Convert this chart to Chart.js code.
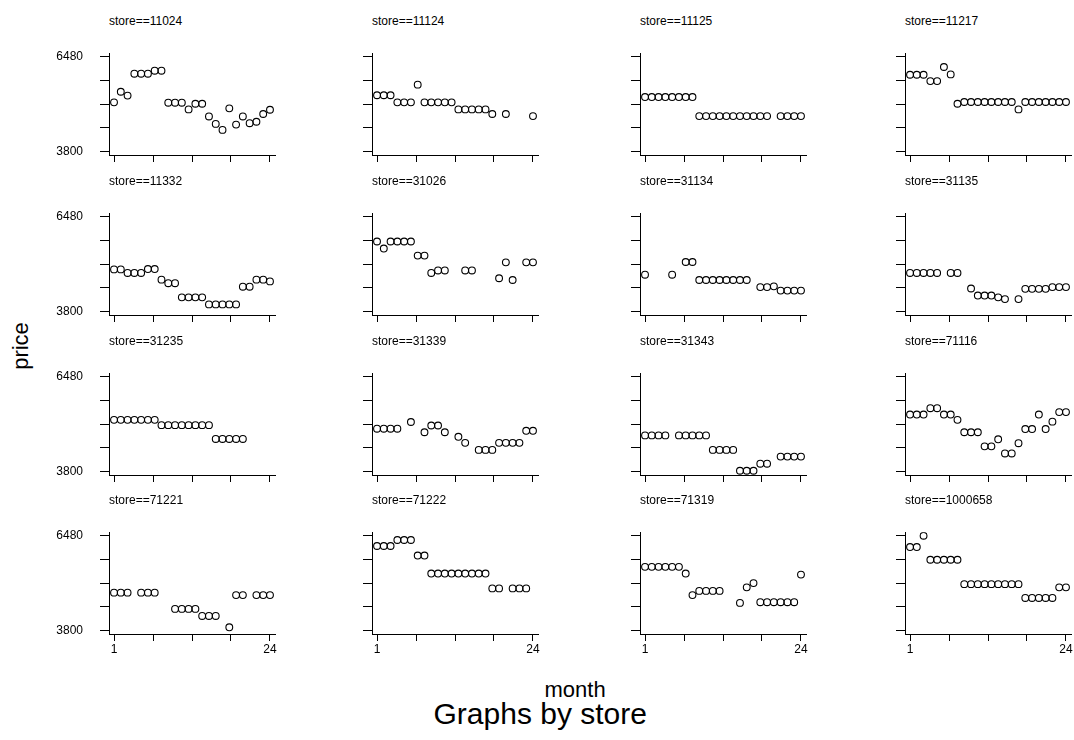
<!DOCTYPE html>
<html>
<head>
<meta charset="utf-8">
<script src="https://cdn.jsdelivr.net/npm/chart.js@4.4.0/dist/chart.umd.min.js"></script>
<style>
    body { margin: 0; background: #fff; width: 1074px; height: 740px; position: relative; overflow: hidden;
           font-family: 'Liberation Sans', Arial, sans-serif; color: #000; }
    canvas { position: absolute; }
    .ptitle { position: absolute; font-size: 12px; line-height: 12px; white-space: nowrap; }
    .ytitle { position: absolute; font-size: 22px; line-height: 22px; transform: rotate(-90deg); transform-origin: center; white-space: nowrap; }
    .xtitle { position: absolute; font-size: 22px; line-height: 22px; white-space: nowrap; }
    .note { position: absolute; font-size: 30px; line-height: 30px; white-space: nowrap; }
</style>
</head>
<body>
<div class="ytitle" id="ytitle">price</div>
<div class="xtitle" id="xtitle">month</div>
<div class="note" id="note">Graphs by store</div>
<script>
// months on the x axis
const months = [1, 2, 3, 4, 5, 6, 7, 8, 9, 10, 11, 12, 13, 14, 15, 16, 17, 18, 19, 20, 21, 22, 23, 24];
const xTicks = [1, 6.75, 12.5, 18.25, 24];
const xLabels = [1, 24];
const yTicks = [3800, 4470, 5140, 5810, 6480];
const yLabels = [3800, 6480];

const stores = ['11024', '11124', '11125', '11217', '11332', '31026', '31134', '31135',
                '31235', '31339', '31343', '71116', '71221', '71222', '71319', '1000658'];

// price by month, null = no observation
const s11024 = [5190, 5490, 5380, 6000, 6000, 6000, 6085, 6085, 5180, 5180, 5180, 4990, 5150, 5150, 4790, 4580, 4410, 5020, 4560, 4790, 4600, 4640, 4860, 4980];
const s11124 = [5390, 5390, 5390, 5190, 5190, 5190, 5690, 5190, 5190, 5190, 5190, 5190, 4990, 4990, 4990, 4990, 4990, 4860, null, 4860, null, null, null, 4800];
const s11125 = [5340, 5340, 5340, 5340, 5340, 5340, 5340, 5340, 4800, 4800, 4800, 4800, 4800, 4800, 4800, 4800, 4800, 4800, 4800, null, 4800, 4800, 4800, 4800];
const s11217 = [5970, 5970, 5970, 5790, 5790, 6190, 5980, 5150, 5200, 5200, 5200, 5200, 5200, 5200, 5200, 5200, 4990, 5200, 5200, 5200, 5200, 5200, 5200, 5200];
const s11332 = [4990, 4990, 4890, 4890, 4890, 5000, 5000, 4700, 4600, 4600, 4200, 4200, 4200, 4200, 4000, 4000, 4000, 4000, 4000, 4500, 4500, 4700, 4700, 4650];
const s31026 = [5780, 5580, 5780, 5780, 5780, 5780, 5380, 5380, 4890, 4960, 4960, null, null, 4960, 4960, null, null, null, 4740, 5190, 4690, null, 5190, 5190];
const s31134 = [4840, null, null, null, 4840, null, 5200, 5200, 4690, 4690, 4690, 4690, 4690, 4690, 4690, 4690, null, 4490, 4490, 4510, 4390, 4390, 4390, 4390];
const s31135 = [4890, 4890, 4890, 4890, 4890, null, 4890, 4890, null, 4450, 4250, 4250, 4250, 4200, 4150, null, 4150, 4440, 4440, 4440, 4440, 4490, 4490, 4490];
const s31235 = [5260, 5260, 5260, 5260, 5260, 5260, 5260, 5110, 5110, 5110, 5110, 5110, 5110, 5110, 5110, 4720, 4720, 4720, 4720, 4720, null, null, null, null];
const s31339 = [5010, 5010, 5010, 5010, null, 5200, null, 4910, 5100, 5100, 4910, null, 4780, 4610, null, 4410, 4410, 4410, 4610, 4610, 4610, 4610, 4950, 4950];
const s31343 = [4820, 4820, 4820, 4820, null, 4820, 4820, 4820, 4820, 4820, 4410, 4410, 4410, 4410, 3820, 3820, 3820, 4020, 4020, null, 4220, 4220, 4220, 4220];
const s71116 = [5410, 5410, 5410, 5590, 5590, 5410, 5410, 5260, 4910, 4910, 4910, 4510, 4510, 4710, 4310, 4310, 4600, 5000, 5000, 5410, 5000, 5210, 5480, 5480];
const s71221 = [4870, 4870, 4870, null, 4870, 4870, 4870, null, null, 4410, 4410, 4410, 4410, 4210, 4210, 4210, null, 3890, 4800, 4800, null, 4800, 4800, 4800];
const s71222 = [6190, 6190, 6190, 6360, 6360, 6360, 5920, 5920, 5410, 5410, 5410, 5410, 5410, 5410, 5410, 5410, 5410, 4990, 4990, null, 4990, 4990, 4990, null];
const s71319 = [5600, 5600, 5600, 5600, 5600, 5600, 5410, 4800, 4920, 4920, 4920, 4920, null, null, 4580, 5020, 5140, 4600, 4600, 4600, 4600, 4600, 4600, 5380];
const s1000658 = [6160, 6160, 6480, 5800, 5800, 5800, 5800, 5800, 5110, 5110, 5110, 5110, 5110, 5110, 5110, 5110, 5110, 4720, 4720, 4720, 4720, 4720, 5020, 5020];

const prices = [s11024, s11124, s11125, s11217, s11332, s31026, s31134, s31135,
                s31235, s31339, s31343, s71116, s71221, s71222, s71319, s1000658];

// panel geometry (axis line positions)
const colX = [109, 372, 640, 905];
const rowTop = [35, 195, 354.5, 514];
const plotW = 166, plotH = 120;
const axisW = 70, axisH = 26, padTop = 6, padRight = 8;
const font = "'Liberation Sans', Arial, sans-serif";

function makePanel(i) {
    const r = Math.floor(i / 4), c = i % 4;
    const canvas = document.createElement('canvas');
    canvas.width = axisW + plotW + padRight;
    canvas.height = padTop + plotH + axisH;
    canvas.style.left = (colX[c] - axisW) + 'px';
    canvas.style.top = (rowTop[r] - padTop) + 'px';
    document.body.appendChild(canvas);

    const t = document.createElement('div');
    t.className = 'ptitle';
    t.textContent = 'store==' + stores[i];
    t.style.left = colX[c] + 'px';
    t.style.top = (rowTop[r] - 20) + 'px';
    document.body.appendChild(t);

    const points = [];
    prices[i].forEach((v, k) => { if (v !== null) points.push({ x: months[k], y: v }); });

    const showY = c === 0, showX = r === 3;

    new Chart(canvas, {
        type: 'scatter',
        data: {
            datasets: [{
                data: points,
                pointStyle: 'circle',
                pointRadius: 3.4,
                borderWidth: 1.1,
                borderColor: '#000',
                backgroundColor: 'rgba(0,0,0,0)'
            }]
        },
        options: {
            responsive: false,
            animation: false,
            layout: { padding: { top: padTop, right: padRight, left: 0, bottom: 0 } },
            plugins: { legend: { display: false }, tooltip: { enabled: false } },
            scales: {
                x: {
                    type: 'linear',
                    min: 0.26,
                    max: 24.74,
                    afterBuildTicks: s => { s.ticks = xTicks.map(v => ({ value: v })); },
                    afterFit: s => { s.height = axisH; },
                    border: { display: true, color: '#000', width: 1 },
                    grid: { drawOnChartArea: false, drawTicks: true, tickLength: 7, color: '#000' },
                    ticks: {
                        color: '#000',
                        padding: 1,
                        maxRotation: 0,
                        autoSkip: false,
                        font: { family: font, size: 12 },
                        callback: v => (showX && xLabels.includes(v)) ? String(v) : ''
                    }
                },
                y: {
                    type: 'linear',
                    min: 3700,
                    max: 6580,
                    afterBuildTicks: s => { s.ticks = yTicks.map(v => ({ value: v })); },
                    afterFit: s => { s.width = axisW; },
                    border: { display: true, color: '#000', width: 1 },
                    grid: { drawOnChartArea: false, drawTicks: true, tickLength: 9, color: '#000' },
                    ticks: {
                        color: '#000',
                        padding: 17,
                        autoSkip: false,
                        font: { family: font, size: 12 },
                        callback: v => (showY && yLabels.includes(v)) ? String(v) : ''
                    }
                }
            }
        }
    });
}

stores.forEach((s, i) => makePanel(i));

// outer titles
const yt = document.getElementById('ytitle');
yt.style.left = (21 - yt.offsetWidth / 2) + 'px';
yt.style.top = (346 - yt.offsetHeight / 2) + 'px';
const xt = document.getElementById('xtitle');
xt.style.left = (575 - xt.offsetWidth / 2) + 'px';
xt.style.top = (690 - xt.offsetHeight / 2) + 'px';
const nt = document.getElementById('note');
nt.style.left = (540 - nt.offsetWidth / 2) + 'px';
nt.style.top = (714 - nt.offsetHeight / 2) + 'px';
</script>
</body>
</html>
